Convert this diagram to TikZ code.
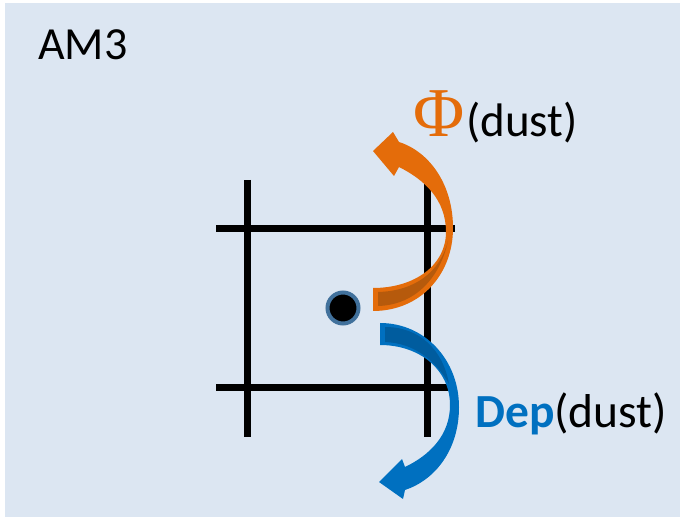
\documentclass[tikz,border=0pt]{standalone}
\usepackage{fontspec}
\setmainfont{Carlito}
\newfontfamily\phifont{Liberation Serif}
\definecolor{bgblue}{HTML}{DCE6F2}
\definecolor{arrorange}{HTML}{E46C0A}
\definecolor{darkorange}{HTML}{B65A0C}
\definecolor{arrblue}{HTML}{0070C0}
\definecolor{darkblue}{HTML}{005C9E}
\definecolor{dotborder}{HTML}{41719C}
\tikzset{
  gridline/.style={line width=7pt, black},
  label/.style={inner sep=0pt, anchor=base west},
}
\begin{document}
\begin{tikzpicture}[x=1pt,y=-1pt]
\useasboundingbox (0,0) rectangle (680,518);
\fill[white] (0,0) rectangle (680,518);
\fill[bgblue] (5,3) rectangle (680,517);
% grid
\draw[gridline] (247,180) -- (247,437);
\draw[gridline] (427,180) -- (427,437);
\draw[gridline] (216,229) -- (455,229);
\draw[gridline] (216,388) -- (455,388);
% dot
\node[circle, fill=black, draw=dotborder, line width=4pt, minimum size=31pt, inner sep=0pt] (dot) at (343,308) {};
% orange arrow
\fill[arrorange] (373,311) .. controls (420,311) and (453,275) .. (453,228)
  .. controls (453,185) and (430,152) .. (399,142)
  -- (393,132) -- (373,151) -- (394,176) -- (399,167)
  .. controls (425,180) and (446,200) .. (446,232)
  .. controls (446,265) and (415,288) .. (373,288) -- cycle;
\fill[darkorange] (378,292) .. controls (415,291) and (440,272) .. (448,241)
  .. controls (440,278) and (415,305) .. (378,306) -- cycle;
% blue arrow
\fill[arrblue] (380,323) .. controls (425,323) and (459,360) .. (459,407)
  .. controls (459,450) and (435,480) .. (405,490)
  -- (403,499) -- (379,482) -- (402,459) -- (405,467)
  .. controls (430,455) and (450,435) .. (450,405)
  .. controls (450,370) and (420,345) .. (380,345) -- cycle;
\fill[darkblue] (385,327) .. controls (420,327) and (443,350) .. (449,384)
  .. controls (437,362) and (415,343) .. (385,342) -- cycle;
% labels
\node[label] (am3) at (38,60) {\fontsize{46}{55}\selectfont AM3};
\node[label] (phi) at (413,137) {\fontsize{47}{55}\selectfont{\phifont\fontsize{70}{78}\selectfont\color{arrorange}Φ}\hspace{2pt}(dust)};
\node[label] (dep) at (475,428) {\fontsize{47.5}{55}\selectfont{\bfseries\color{arrblue}Dep}(dust)};
\end{tikzpicture}
\end{document}
